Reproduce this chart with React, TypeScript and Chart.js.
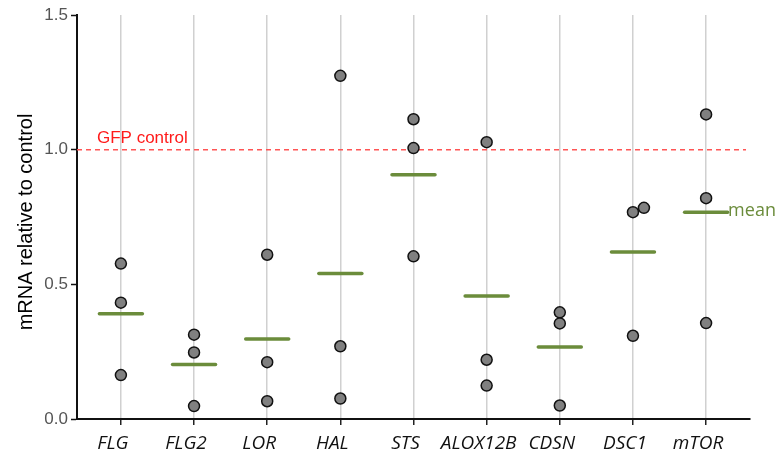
import React, { useEffect, useRef } from "react";
import { Chart, registerables } from "chart.js";

Chart.register(...registerables);

const categories = ["FLG", "FLG2", "LOR", "HAL", "STS", "ALOX12B", "CDSN", "DSC1", "mTOR"];
const rep1 = [0.577, 0.313, 0.61, 1.274, 1.113, 1.028, 0.396, 0.768, 1.131];
const rep2 = [0.432, 0.247, 0.211, 0.27, 1.006, 0.22, 0.355, 0.784, 0.82];
const rep3 = [0.163, 0.048, 0.066, 0.076, 0.604, 0.124, 0.05, 0.309, 0.356];
const rep2Shift = [0, 0, 0, 0, 0, 0, 0, 0.15, 0];
const means = [0.391, 0.202, 0.297, 0.54, 0.907, 0.457, 0.267, 0.62, 0.768];
const yTicks = [0, 0.5, 1.0, 1.5];
const controlLevel = 1.0;
const controlLabel = "GFP control";
const meanLabel = "mean";
const yTitle = "mRNA relative to control";

const GREEN = "#6b8c3b";

export default function App() {
  const ref = useRef<HTMLCanvasElement | null>(null);

  useEffect(() => {
    const canvas = ref.current;
    if (!canvas) return;

    const points: { x: number; y: number }[] = [];
    categories.forEach((_, i) => {
      points.push({ x: i, y: rep1[i] });
      points.push({ x: i + rep2Shift[i], y: rep2[i] });
      points.push({ x: i, y: rep3[i] });
    });

    const overlay = {
      id: "overlay",
      beforeDatasetsDraw(chart: any) {
        const { ctx, chartArea, scales } = chart;
        const y = scales.y.getPixelForValue(controlLevel);
        ctx.save();
        ctx.strokeStyle = "#ff5555";
        ctx.lineWidth = 1.5;
        ctx.setLineDash([5, 4]);
        ctx.beginPath();
        ctx.moveTo(chartArea.left, y);
        ctx.lineTo(chartArea.right - 4, y);
        ctx.stroke();
        ctx.setLineDash([]);
        ctx.fillStyle = "#ff1a1a";
        ctx.font = "17px 'Liberation Sans', Arial, sans-serif";
        ctx.textAlign = "left";
        ctx.textBaseline = "alphabetic";
        ctx.fillText(controlLabel, chartArea.left + 20, y - 7);
        ctx.restore();
      },
      beforeDatasetDraw(chart: any, args: any) {
        if (args.index === 1) chart.ctx.lineCap = "round";
      },
      afterDatasetDraw(chart: any, args: any) {
        if (args.index === 1) chart.ctx.lineCap = "butt";
      },
      afterDatasetsDraw(chart: any) {
        const { ctx, scales, chartArea } = chart;
        const last = categories.length - 1;
        const mx = scales.x.getPixelForValue(last) + 22;
        const my = scales.y.getPixelForValue(means[last]);
        ctx.save();
        ctx.fillStyle = GREEN;
        ctx.font = "18px 'Open Sans', sans-serif";
        ctx.textAlign = "left";
        ctx.textBaseline = "alphabetic";
        ctx.fillText(meanLabel, mx, my + 4);
        // y title
        ctx.translate(32, (chartArea.top + chartArea.bottom) / 2 + 5);
        ctx.rotate(-Math.PI / 2);
        ctx.fillStyle = "#000";
        ctx.font = "20px 'Liberation Sans', Arial, sans-serif";
        ctx.textAlign = "center";
        ctx.fillText(yTitle, 0, 0);
        ctx.restore();
      },
    };

    const chart = new Chart(canvas, {
      type: "scatter",
      data: {
        datasets: [
          {
            data: points,
            pointRadius: 5.5,
            pointBackgroundColor: "#808080",
            pointBorderColor: "#111",
            pointBorderWidth: 1.5,
            order: 0,
          } as any,
          {
            data: means.map((m, i) => ({ x: i, y: m })),
            pointStyle: "line",
            pointRadius: 21.5,
            pointBorderColor: GREEN,
            pointBackgroundColor: GREEN,
            pointBorderWidth: 3.5,
            order: 1,
          } as any,
        ],
      },
      options: {
        animation: false,
        responsive: false,
        events: [],
        layout: { autoPadding: false, padding: { top: 15, right: 28, left: 0, bottom: 0 } },
        plugins: { legend: { display: false }, tooltip: { enabled: false } },
        scales: {
          x: {
            type: "linear",
            min: -0.6,
            max: 8.6,
            afterBuildTicks(scale: any) {
              scale.ticks = categories.map((_, i) => ({ value: i }));
            },
            afterFit(scale: any) {
              scale.height = 40;
              scale.paddingLeft = 0;
              scale.paddingRight = 0;
            },
            ticks: {
              autoSkip: false,
              maxRotation: 0,
              padding: 7,
              labelOffset: -8,
              color: "#111",
              font: { family: "'Open Sans', sans-serif", size: 19, style: "italic" },
              callback: (v: any) => categories[Math.round(Number(v))] ?? "",
            },
            grid: {
              color: "#d0d0d0",
              lineWidth: 1.5,
              tickColor: "#222",
              tickLength: 6,
              tickWidth: 1.5,
            } as any,
            border: { color: "#111", width: 2 },
          },
          y: {
            type: "linear",
            min: 0,
            max: 1.5,
            afterBuildTicks(scale: any) {
              scale.ticks = yTicks.map((v) => ({ value: v }));
            },
            afterFit(scale: any) {
              scale.width = 77;
              scale.paddingTop = 0;
              scale.paddingBottom = 0;
            },
            ticks: {
              padding: 3,
              color: "#555",
              font: { family: "'Liberation Sans', Arial, sans-serif", size: 17 },
              callback: (v: any) => Number(v).toFixed(1),
            },
            grid: {
              drawOnChartArea: false,
              tickColor: "#111",
              tickLength: 6,
              tickWidth: 1.5,
            } as any,
            border: { color: "#111", width: 2 },
          },
        },
      },
      plugins: [overlay],
    } as any);

    return () => chart.destroy();
  }, []);

  return (
    <div style={{ position: "absolute", left: 0, top: 0, width: 778, height: 459, background: "#fff" }}>
      <canvas ref={ref} width={778} height={459} style={{ display: "block" }} />
    </div>
  );
}
